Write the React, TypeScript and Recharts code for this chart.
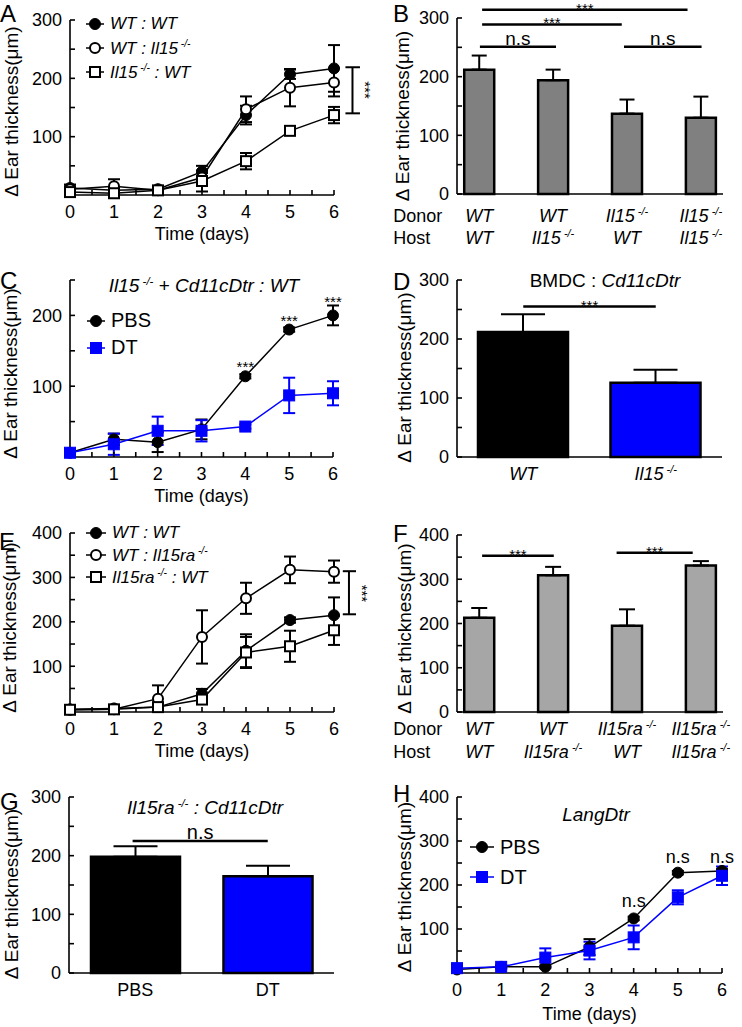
import React from 'react'
import { ComposedChart, Bar, Line, XAxis, YAxis, ErrorBar, ReferenceLine, ReferenceDot, Legend, Cell } from 'recharts'

const FONT = '"Liberation Sans", Arial, Helvetica, sans-serif'
const BLUE = '#0000ff'
const AX = { stroke: '#000', strokeWidth: 1.6 }

const days = [0, 1, 2, 3, 4, 5, 6]
const dayTicks = [0, 0.5, 1, 1.5, 2, 2.5, 3, 3.5, 4, 4.5, 5, 5.5, 6]

// A
const aWtWt = [12, 8, 10, 40, 137, 207, 217]
const aWtWtErr = [6, 4, 4, 10, 16, 8, 40]
const aWtIl15 = [10, 15, 8, 30, 147, 184, 193]
const aWtIl15Err = [5, 12, 4, 8, 22, 32, 24]
const aIl15Wt = [5, 3, 8, 24, 58, 110, 137]
const aIl15WtErr = [3, 3, 3, 18, 14, 4, 14]

// B
const bDonor = ['WT', 'WT', 'Il15 -/-', 'Il15 -/-']
const bHost = ['WT', 'Il15 -/-', 'WT', 'Il15 -/-']
const bMean = [212, 194, 137, 130]
const bErr = [24, 18, 24, 36]

// C
const cPbs = [6, 25, 21, 39, 114, 180, 200]
const cPbsErr = [3, 8, 14, 14, 3, 3, 14]
const cDt = [6, 18, 37, 37, 43, 87, 90]
const cDtErr = [3, 15, 20, 15, 3, 25, 17]

// D
const dGroups = ['WT', 'Il15 -/-']
const dMean = [212, 126]
const dErr = [30, 22]

// E
const eWtWt = [3, 5, 8, 38, 135, 204, 215]
const eWtWtErr = [2, 2, 3, 11, 37, 6, 40]
const eWtIl15ra = [2, 3, 27, 166, 253, 317, 313]
const eWtIl15raErr = [2, 2, 30, 60, 35, 30, 25]
const eIl15raWt = [2, 3, 8, 25, 131, 145, 181]
const eIl15raWtErr = [2, 2, 3, 10, 35, 35, 33]

// F
const fDonor = ['WT', 'WT', 'Il15ra -/-', 'Il15ra -/-']
const fHost = ['WT', 'Il15ra -/-', 'WT', 'Il15ra -/-']
const fMean = [213, 309, 195, 331]
const fErr = [22, 19, 37, 10]

// G
const gGroups = ['PBS', 'DT']
const gMean = [198, 165]
const gErr = [18, 18]

// H
const hPbs = [8, 14, 14, 59, 124, 228, 232]
const hPbsErr = [3, 3, 3, 18, 4, 4, 4]
const hDt = [11, 14, 35, 51, 81, 172, 221]
const hDtErr = [7, 4, 21, 20, 27, 16, 21]

// significance annotations (data coordinates)
const bSig = [
  { x1: 0.04, x2: 2.82, y: 314, text: '***' },
  { x1: 0.04, x2: 1.93, y: 289, text: '***' },
  { x1: 0.01, x2: 1.04, y: 251, text: 'n.s' },
  { x1: 1.96, x2: 3.01, y: 251, text: 'n.s' },
]
const dSig = [{ x1: 0, x2: 1, y: 255, text: '***' }]
const fSig = [
  { x1: 0.04, x2: 1.01, y: 353, text: '***' },
  { x1: 1.86, x2: 2.89, y: 360, text: '***' },
]
const gSig = [{ x1: -0.02, x2: 1.0, y: 225, text: 'n.s' }]
const cStarDays = [4, 5, 6]
const cStarY = [128, 192, 220]
const hNsDays = [4, 5, 6]
const hNsY = [164, 265, 265]

function SvgGene({ text, sup = 11 }: any) {
  const i = text.indexOf(' -/-')
  if (i < 0) return <>{text}</>
  const rest = text.slice(i + 4)
  return (
    <>
      {text.slice(0, i)}
      <tspan dy={-7} fontSize={sup}>{' -/-'}</tspan>
      {rest ? <tspan dy={7}>{rest}</tspan> : null}
    </>
  )
}

function HtmlGene({ text }: any) {
  const i = text.indexOf(' -/-')
  if (i < 0) return <>{text}</>
  return (
    <>
      {text.slice(0, i)}
      <sup style={{ fontSize: '0.6em' }}>{' -/-'}</sup>
      {text.slice(i + 4)}
    </>
  )
}

function Marker({ kind, cx, cy, color }: any) {
  if (cx == null || cy == null) return null
  if (kind === 'filledCircle') return <circle cx={cx} cy={cy} r={5.5} fill={color} stroke={color} strokeWidth={1} />
  if (kind === 'openCircle') return <circle cx={cx} cy={cy} r={5} fill="#fff" stroke={color} strokeWidth={2} />
  if (kind === 'openSquare') return <rect x={cx - 5} y={cy - 5} width={10} height={10} fill="#fff" stroke={color} strokeWidth={2} />
  return <rect x={cx - 5.5} y={cy - 5.5} width={11} height={11} fill={color} stroke={color} strokeWidth={1} />
}

function LegendBox({ items, fontSize, rowH, markW }: any) {
  return (
    <div style={{ fontFamily: FONT, fontSize, color: '#000' }}>
      {items.map((it: any) => (
        <div key={it.name} style={{ display: 'flex', alignItems: 'center', height: rowH, whiteSpace: 'nowrap' }}>
          <svg width={markW} height={14} style={{ marginRight: 6, overflow: 'visible' }}>
            <line x1={0} x2={markW} y1={7} y2={7} stroke={it.color} strokeWidth={1.5} />
            <Marker kind={it.kind} cx={markW / 2} cy={7} color={it.color} />
          </svg>
          <span style={{ fontStyle: it.italic ? 'italic' : 'normal' }}><HtmlGene text={it.name} /></span>
        </div>
      ))}
    </div>
  )
}

const yLabel = (offset: number, dy: number) => ({
  value: 'Δ Ear thickness(μm)', angle: -90, position: 'insideLeft', offset, dy,
  fill: '#000', fontSize: 19, style: { textAnchor: 'middle' },
})

const hundreds = (v: number) => (v % 100 === 0 ? String(v) : '')

function LinePanel({ left, top, width, height, margin, yWidth, yMax, yTicks, series, lab, legend, xLabelOffset = 5, children }: any) {
  const rows = days.map((d, i) => {
    const row: any = { day: d }
    series.forEach((s: any, k: number) => { row['v' + k] = s.values[i]; row['e' + k] = s.errs[i] })
    return row
  })
  return (
    <div style={{ position: 'absolute', left, top }}>
      <ComposedChart width={width} height={height} margin={margin} data={rows}>
        <XAxis type="number" dataKey="day" domain={[0, 6]} ticks={dayTicks} interval={0}
          tickFormatter={(v: number) => (Number.isInteger(v) ? String(v) : '')}
          tickSize={-5} tickMargin={15} axisLine={AX} tickLine={AX} tick={{ fill: '#000', fontSize: 18 }} height={50}
          label={{ value: 'Time (days)', position: 'insideBottom', offset: xLabelOffset, fill: '#000', fontSize: 18 }} />
        <YAxis type="number" domain={[0, yMax]} ticks={yTicks} interval={0} tickFormatter={hundreds} width={yWidth}
          tickSize={-5} tickMargin={13} axisLine={AX} tickLine={AX} tick={{ fill: '#000', fontSize: 18 }}
          label={yLabel(lab[0], lab[1])} />
        <Legend layout="vertical" align="center" verticalAlign="middle"
          wrapperStyle={{ left: legend.left, top: legend.top, width: 'auto', height: 'auto' }}
          content={() => <LegendBox items={series} fontSize={legend.fontSize} rowH={legend.rowH} markW={legend.markW} />} />
        {series.map((s: any, k: number) => (
          <Line key={k} type="linear" dataKey={'v' + k} name={s.name} stroke={s.color} strokeWidth={1.5}
            dot={(p: any) => <Marker key={'d' + k + '-' + p.index} kind={s.kind} cx={p.cx} cy={p.cy} color={s.color} />}
            activeDot={false} isAnimationActive={false}>
            <ErrorBar dataKey={'e' + k} direction="y" width={6} stroke={s.color} strokeWidth={2} />
          </Line>
        ))}
        {children}
      </ComposedChart>
    </div>
  )
}

function BarPanel({ left, top, width, height, margin, yWidth, yMax, yTicks, xDomain, means, errs, fills, barSize, errWidth, xHeight, tick, lab, sig, sigFont, children }: any) {
  const rows = means.map((m: number, i: number) => ({ pos: i, mean: m, err: [0, errs[i]] }))
  return (
    <div style={{ position: 'absolute', left, top }}>
      <ComposedChart width={width} height={height} margin={margin} data={rows}>
        <XAxis type="number" dataKey="pos" domain={xDomain} ticks={means.map((_: any, i: number) => i)} interval={0}
          tickLine={false} tickSize={0} tickMargin={0} axisLine={AX} tick={tick} height={xHeight} />
        <YAxis type="number" domain={[0, yMax]} ticks={yTicks} interval={0} tickFormatter={hundreds} width={yWidth}
          tickSize={-5} tickMargin={13} axisLine={AX} tickLine={AX} tick={{ fill: '#000', fontSize: 18 }}
          label={yLabel(lab[0], lab[1])} />
        <Bar dataKey="mean" barSize={barSize} stroke="#000" strokeWidth={2.5} isAnimationActive={false}>
          {rows.map((_: any, i: number) => <Cell key={i} fill={fills[i % fills.length]} />)}
          <ErrorBar dataKey="err" direction="y" width={errWidth} stroke="#000" strokeWidth={2} />
        </Bar>
        {sig.map((s: any, i: number) => (
          <ReferenceLine key={'s' + i} segment={[{ x: s.x1, y: s.y }, { x: s.x2, y: s.y }]} stroke="#000" strokeWidth={2.5}
            ifOverflow="visible"
            label={{ value: s.text, position: 'top', offset: s.text === '***' ? -4 : 2, fill: '#000', stroke: 'none', fontSize: s.text === '***' ? 15 : sigFont }} />
        ))}
        {children}
      </ComposedChart>
    </div>
  )
}

function twoRowTick(donor: string[], host: string[], rowY: number[]) {
  return (p: any) => {
    const i = p.payload.value
    return (
      <g key={'t' + i}>
        {i === 0 && <text x={p.x - 86} y={p.y + rowY[0]} fontSize={18} fill="#000">Donor</text>}
        {i === 0 && <text x={p.x - 86} y={p.y + rowY[1]} fontSize={18} fill="#000">Host</text>}
        <text x={p.x} y={p.y + rowY[0]} textAnchor="middle" fontStyle="italic" fontSize={18} fill="#000"><SvgGene text={donor[i]} /></text>
        <text x={p.x} y={p.y + rowY[1]} textAnchor="middle" fontStyle="italic" fontSize={18} fill="#000"><SvgGene text={host[i]} /></text>
      </g>
    )
  }
}

function groupTick(names: string[], italic: boolean) {
  return (p: any) => (
    <text key={'g' + p.payload.value} x={p.x} y={p.y + 23} textAnchor="middle" fontStyle={italic ? 'italic' : 'normal'} fontSize={18} fill="#000">
      <SvgGene text={names[p.payload.value]} />
    </text>
  )
}

function bracket(x: number, capL: number, capR: number, y1: number, y2: number, sx: number, sy: number) {
  return [
    <ReferenceLine key="bv" segment={[{ x, y: y1 }, { x, y: y2 }]} stroke="#000" strokeWidth={2} ifOverflow="visible" />,
    <ReferenceLine key="bt" segment={[{ x: capL, y: y2 }, { x: capR, y: y2 }]} stroke="#000" strokeWidth={2} ifOverflow="visible" />,
    <ReferenceLine key="bb" segment={[{ x: capL, y: y1 }, { x: capR, y: y1 }]} stroke="#000" strokeWidth={2} ifOverflow="visible" />,
    <ReferenceDot key="bs" x={sx} y={sy} r={0} fill="none" stroke="none" ifOverflow="visible"
      label={{ value: '***', position: 'center', angle: 90, fill: '#000', fontSize: 15 }} />,
  ]
}

const letter = (ch: string, left: number, top: number) => (
  <div key={ch} style={{ position: 'absolute', left, top, fontSize: 24, lineHeight: 1 }}>{ch}</div>
)

const title = (left: number, top: number, content: any) => (
  <div style={{ position: 'absolute', left, top, transform: 'translate(-50%, -50%)', fontSize: 19, whiteSpace: 'nowrap' }}>{content}</div>
)

export default function App() {
  const aSeries = [
    { name: 'WT : WT', values: aWtWt, errs: aWtWtErr, kind: 'filledCircle', color: '#000', italic: true },
    { name: 'WT : Il15 -/-', values: aWtIl15, errs: aWtIl15Err, kind: 'openCircle', color: '#000', italic: true },
    { name: 'Il15 -/- : WT', values: aIl15Wt, errs: aIl15WtErr, kind: 'openSquare', color: '#000', italic: true },
  ]
  const cSeries = [
    { name: 'PBS', values: cPbs, errs: cPbsErr, kind: 'filledCircle', color: '#000' },
    { name: 'DT', values: cDt, errs: cDtErr, kind: 'filledSquare', color: BLUE },
  ]
  const eSeries = [
    { name: 'WT : WT', values: eWtWt, errs: eWtWtErr, kind: 'filledCircle', color: '#000', italic: true },
    { name: 'WT : Il15ra -/-', values: eWtIl15ra, errs: eWtIl15raErr, kind: 'openCircle', color: '#000', italic: true },
    { name: 'Il15ra -/- : WT', values: eIl15raWt, errs: eIl15raWtErr, kind: 'openSquare', color: '#000', italic: true },
  ]
  const hSeries = [
    { name: 'PBS', values: hPbs, errs: hPbsErr, kind: 'filledCircle', color: '#000' },
    { name: 'DT', values: hDt, errs: hDtErr, kind: 'filledSquare', color: BLUE },
  ]

  return (
    <div style={{ position: 'absolute', left: 0, top: 0, width: 742, height: 1027, background: '#fff', fontFamily: FONT, color: '#000', overflow: 'hidden' }}>
      {/* A */}
      <LinePanel left={0} top={0} width={382} height={250} margin={{ top: 20, right: 48, bottom: 5, left: 2 }} yWidth={68}
        yMax={300} yTicks={[50, 100, 150, 200, 250, 300]} series={aSeries} lab={[9, 4]}
        legend={{ left: 86, top: 12, rowH: 24, fontSize: 17, markW: 18 }}>
        {bracket(6.42, 6.26, 6.59, 140, 219, 6.72, 180)}
      </LinePanel>

      {/* B */}
      <BarPanel left={370} top={0} width={372} height={254} margin={{ top: 18, right: 19, bottom: 5, left: 2 }} yWidth={85}
        yMax={300} yTicks={[0, 50, 100, 150, 200, 250, 300]} xDomain={[-0.3, 3.3]} means={bMean} errs={bErr}
        fills={['#808080']} barSize={30} errWidth={7.5} xHeight={55} tick={twoRowTick(bDonor, bHost, [28, 50])}
        lab={[30, 10]} sig={bSig} sigFont={19} />

      {/* C */}
      <LinePanel left={0} top={255} width={370} height={257} margin={{ top: 25, right: 37, bottom: 5, left: 2 }} yWidth={68}
        yMax={250} yTicks={[50, 100, 150, 200, 250]} series={cSeries} lab={[8, 5]}
        legend={{ left: 87, top: 52, rowH: 27, fontSize: 20, markW: 18 }}>
        {cStarDays.map((d, i) => (
          <ReferenceDot key={'cs' + i} x={d} y={cStarY[i]} r={0} fill="none" stroke="none" ifOverflow="visible"
            label={{ value: '***', position: 'center', fill: '#000', fontSize: 15 }} />
        ))}
      </LinePanel>
      {title(204, 286, <i><HtmlGene text="Il15 -/- + Cd11cDtr : WT" /></i>)}

      {/* D */}
      <BarPanel left={370} top={255} width={372} height={237} margin={{ top: 25, right: 20, bottom: 5, left: 2 }} yWidth={85}
        yMax={300} yTicks={[0, 50, 100, 150, 200, 250, 300]} xDomain={[-0.5, 1.5]} means={dMean} errs={dErr}
        fills={['#000', BLUE]} barSize={90} errWidth={22} xHeight={30} tick={groupTick(dGroups, true)}
        lab={[32, 9]} sig={dSig} sigFont={19} />
      {title(605, 281, <>BMDC : <i>Cd11cDtr</i></>)}

      {/* E */}
      <LinePanel left={0} top={505} width={382} height={262} margin={{ top: 28, right: 48, bottom: 5, left: 2 }} yWidth={68}
        yMax={400} yTicks={[50, 100, 150, 200, 250, 300, 350, 400]} series={eSeries} lab={[7, 5]}
        legend={{ left: 86, top: 17, rowH: 22, fontSize: 17, markW: 20 }}>
        {bracket(6.34, 6.2, 6.5, 217, 314, 6.64, 264)}
      </LinePanel>

      {/* F */}
      <BarPanel left={370} top={500} width={372} height={272} margin={{ top: 35, right: 19, bottom: 5, left: 2 }} yWidth={85}
        yMax={400} yTicks={[0, 50, 100, 150, 200, 250, 300, 350, 400]} xDomain={[-0.3, 3.3]} means={fMean} errs={fErr}
        fills={['#a6a6a6']} barSize={30} errWidth={8} xHeight={55} tick={twoRowTick(fDonor, fHost, [23, 46])}
        lab={[32, 5]} sig={fSig} sigFont={19} />

      {/* G */}
      <BarPanel left={0} top={767} width={370} height={241} margin={{ top: 30, right: 36, bottom: 5, left: 2 }} yWidth={67}
        yMax={300} yTicks={[0, 50, 100, 150, 200, 250, 300]} xDomain={[-0.5, 1.5]} means={gMean} errs={gErr}
        fills={['#000', BLUE]} barSize={89} errWidth={22} xHeight={30} tick={groupTick(gGroups, false)}
        lab={[9, 9]} sig={gSig} sigFont={20} />
      {title(205, 808, <i><HtmlGene text="Il15ra -/- : Cd11cDtr" /></i>)}

      {/* H */}
      <LinePanel left={370} top={765} width={372} height={260} margin={{ top: 32, right: 20, bottom: 2, left: 2 }} yWidth={85}
        yMax={400} yTicks={[50, 100, 150, 200, 250, 300, 350, 400]} series={hSeries} lab={[32, 2]} xLabelOffset={3}
        legend={{ left: 100, top: 67, rowH: 30, fontSize: 20, markW: 24 }}>
        {hNsDays.map((d, i) => (
          <ReferenceDot key={'hn' + i} x={d} y={hNsY[i]} r={0} fill="none" stroke="none" ifOverflow="visible"
            label={{ value: 'n.s', position: 'center', fill: '#000', fontSize: 18 }} />
        ))}
      </LinePanel>
      {title(596, 815, <i>LangDtr</i>)}

      {letter('A', 0, 2)}
      {letter('B', 393, 2)}
      {letter('C', 0, 269)}
      {letter('D', 393, 270)}
      {letter('E', -1, 530)}
      {letter('F', 393, 522)}
      {letter('G', 0, 790)}
      {letter('H', 393, 782)}
    </div>
  )
}
